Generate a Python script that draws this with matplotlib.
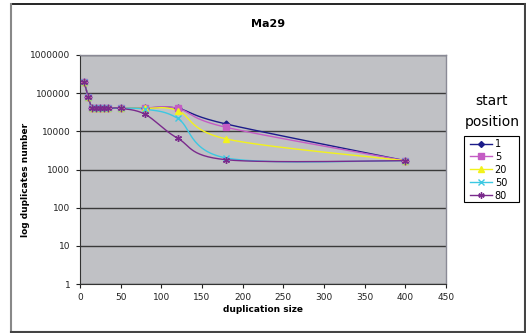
import numpy as np
import matplotlib
matplotlib.use("Agg")
import matplotlib.pyplot as plt
from matplotlib.patches import Rectangle

# duplication sizes (x) and duplicate counts per start position
sizes = [5, 10, 15, 20, 25, 30, 35, 50, 80, 120, 180, 400]
pos_1 = [200000, 80000, 40000, 40000, 40000, 40000, 40000, 40000, 41000, 40000, 15500, 1700]
pos_5 = [200000, 80000, 40000, 40000, 40000, 40000, 40000, 40000, 41000, 40000, 12700, 1700]
pos_20 = [200000, 80000, 40000, 40000, 40000, 40000, 40000, 40000, 40000, 35000, 6300, 1700]
pos_50 = [200000, 80000, 40000, 40000, 40000, 40000, 40000, 40000, 38000, 22000, 2000, 1700]
pos_80 = [200000, 80000, 40000, 40000, 40000, 40000, 40000, 40000, 28000, 6600, 1800, 1700]

labels = ["1", "5", "20", "50", "80"]
series = [pos_1, pos_5, pos_20, pos_50, pos_80]
colors = ["#1c1c8a", "#c45cc4", "#f2f21c", "#3cc8e2", "#7a2a8c"]
markers = ["D", "s", "^", "x", (6, 2, 0)]
msizes = [3.5, 4.5, 4.5, 4.5, 5]

W, H = 526, 333
fig = plt.figure(figsize=(W / 100, H / 100), dpi=100)
fig.patch.set_facecolor("white")

# chart frame
fig.add_artist(plt.Line2D([11 / W, 524 / W], [1 - 3.5 / H, 1 - 3.5 / H], color="black", lw=1.2, transform=fig.transFigure))
fig.add_artist(plt.Line2D([11 / W, 11 / W], [1 - 3.5 / H, 1 - 332 / H], color="#888888", lw=1.5, transform=fig.transFigure))
fig.add_artist(plt.Line2D([11 / W, 524.5 / W], [1 - 331.5 / H, 1 - 331.5 / H], color="#444444", lw=1.5, transform=fig.transFigure))
fig.add_artist(plt.Line2D([524.5 / W, 524.5 / W], [1 - 3.5 / H, 1 - 332 / H], color="#444444", lw=1.5, transform=fig.transFigure))

left, right, top, bottom = 80, 446, 55, 284
ax = fig.add_axes([left / W, 1 - bottom / H, (right - left) / W, (bottom - top) / H])
ax.set_facecolor("#c0c1c5")
ax.set_yscale("log")
ax.set_xlim(0, 450)
ax.set_ylim(1, 1e6)
ax.set_xticks(np.arange(0, 451, 50))
ax.set_yticks([1, 10, 100, 1000, 10000, 100000, 1000000])
ax.set_yticklabels(["1", "10", "100", "1000", "10000", "100000", "1000000"])
ax.minorticks_off()
ax.tick_params(axis="both", labelsize=6.5, direction="out", length=3, width=0.8, colors="#222222")
ax.tick_params(axis="y", pad=4)
ax.grid(axis="y", color="#3a3a3a", lw=1.0)
ax.set_axisbelow(True)
for side in ["top", "right"]:
    ax.spines[side].set_color("#8a8a96")
    ax.spines[side].set_linewidth(1.0)
ax.spines["left"].set_color("#333333")
ax.spines["bottom"].set_color("#333333")

ax.set_xlabel("duplication size", fontsize=6.5, fontweight="bold", labelpad=2)
ax.set_ylabel("log duplicates number", fontsize=6.5, fontweight="bold")
ax.yaxis.set_label_coords(-0.137, 0.454)
fig.text(268 / W, 1 - 24 / H, "Ma29", fontsize=8, fontweight="bold", ha="center", va="center")


def smooth(xs, ys, n=30):
    """Catmull-Rom curve through the points, built in display space."""
    pts = ax.transData.transform(np.column_stack([xs, ys]))
    p = np.vstack([pts[0], pts, pts[-1]])
    out = []
    for i in range(1, len(p) - 2):
        p0, p1, p2, p3 = p[i - 1], p[i], p[i + 1], p[i + 2]
        t = np.linspace(0, 1, n, endpoint=False)[:, None]
        c = 0.5 * ((2 * p1) + (-p0 + p2) * t + (2 * p0 - 5 * p1 + 4 * p2 - p3) * t ** 2
                   + (-p0 + 3 * p1 - 3 * p2 + p3) * t ** 3)
        out.append(c)
    out.append(p[-2][None, :])
    curve = ax.transData.inverted().transform(np.vstack(out))
    return curve[:, 0], curve[:, 1]


handles = []
for lab, ys, col, mk, ms in zip(labels, series, colors, markers, msizes):
    cx, cy = smooth(sizes, ys)
    ax.plot(cx, cy, color=col, lw=1.0, zorder=3)
    ax.plot(sizes, ys, linestyle="none", marker=mk, ms=ms, color=col, mfc=col,
            mew=1.0, zorder=4)
    h, = ax.plot([], [], color=col, lw=1.0, marker=mk, ms=ms - 0.5, mew=1.0)
    handles.append(h)

# legend title above the box
fig.text(492 / W, 1 - 101 / H, "start", fontsize=10, ha="center", va="center")
fig.text(492 / W, 1 - 122 / H, "position", fontsize=10, ha="center", va="center")

# legend box
fig.add_artist(Rectangle((464 / W, 1 - 202 / H), 55 / W, 66 / H, transform=fig.transFigure,
                         facecolor="white", edgecolor="black", lw=0.8, zorder=2))
leg = fig.legend(handles, labels, loc="upper left", bbox_to_anchor=(468 / W, 1 - 137 / H),
                 fontsize=7, frameon=False, handlelength=2.3,
                 handletextpad=0.25, labelspacing=0.3, borderpad=0.2, borderaxespad=0)
leg.set_zorder(3)

fig.savefig("out.png", dpi=100)
